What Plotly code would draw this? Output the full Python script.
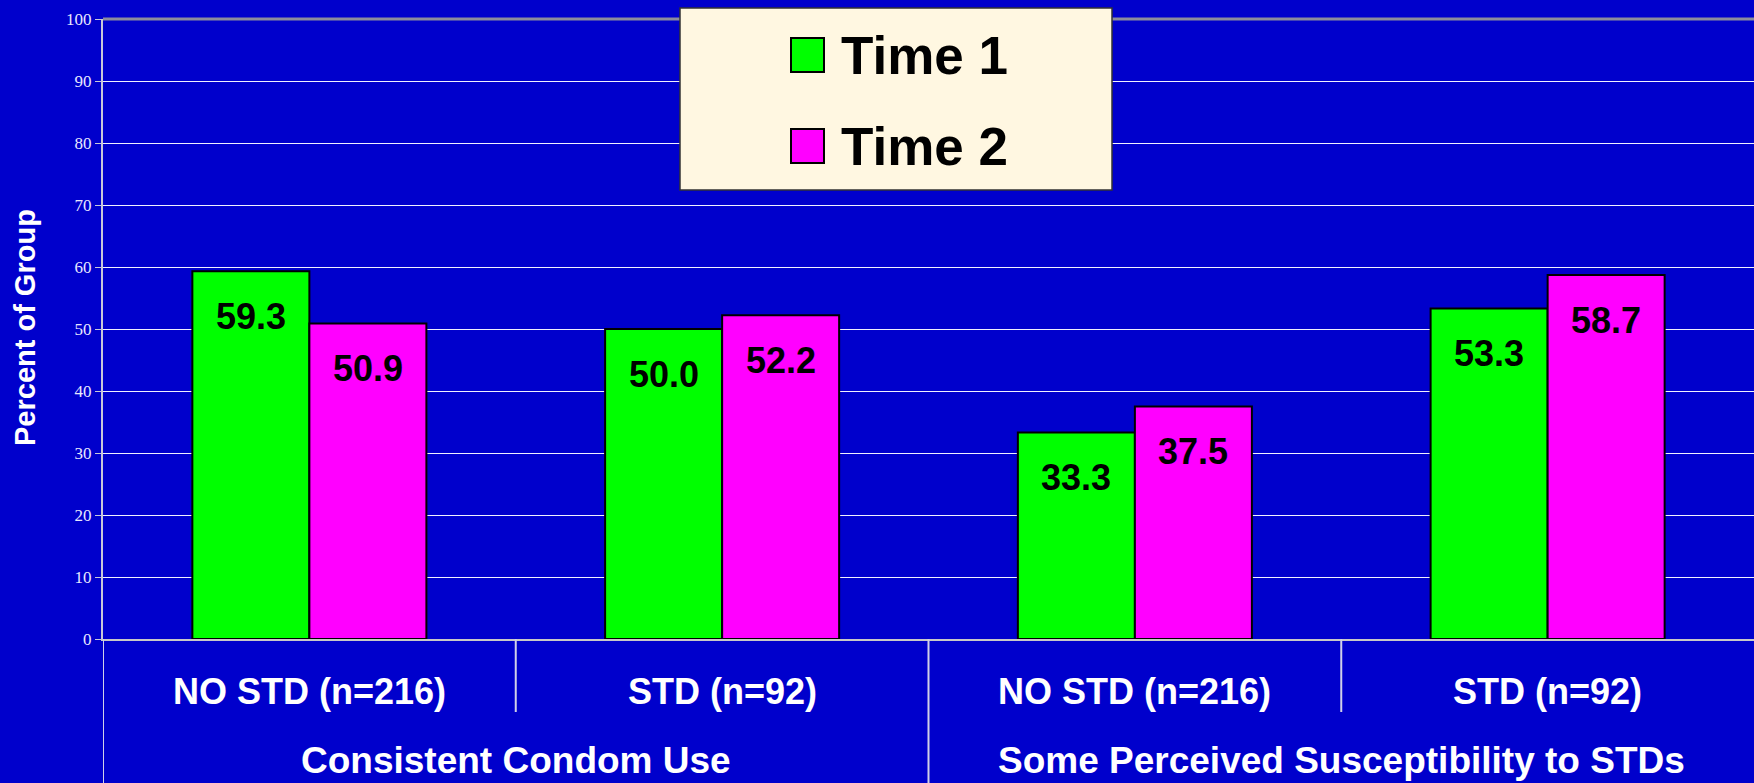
import plotly.graph_objects as go

# ---- data -------------------------------------------------------------
outcomes = ["Consistent Condom Use", "Some Perceived Susceptibility to STDs"]
groups = ["NO STD (n=216)", "STD (n=92)"]
series_names = ["Time 1", "Time 2"]
time1 = [59.3, 50.0, 33.3, 53.3]
time2 = [50.9, 52.2, 37.5, 58.7]
y_ticks = list(range(0, 101, 10))

# ---- styling ----------------------------------------------------------
W, H = 1754, 783
ML, MR, MT, MB = 103, 0, 19, 144
PW, PH = W - ML - MR, H - MT - MB
BG = "#0000CC"
COLORS = ["#00FF00", "#FF00FF"]
SANS = "Liberation Sans, Arial, sans-serif"
SERIF = "Liberation Serif, Times New Roman, serif"
BARGAP = 0.433


def px_x(px):
    return (px - ML) / PW


def px_y(py):
    return (H - MB - py) / PH


sub_labels = [g for _ in outcomes for g in groups]
xs = list(range(len(sub_labels)))

fig = go.Figure()
for name, vals, col in zip(series_names, [time1, time2], COLORS):
    fig.add_trace(go.Bar(
        x=xs, y=vals, name=name,
        marker=dict(color=col, line=dict(color="black", width=2)),
        showlegend=False,
    ))

annotations = []
shapes = []

# value labels near the top of each bar
half = (1 - BARGAP) / 4
for k, vals in enumerate([time1, time2]):
    off = -half if k == 0 else half
    for i, v in enumerate(vals):
        annotations.append(dict(
            x=i + off, y=v, xref="x", yref="y", text=f"<b>{v:.1f}</b>",
            showarrow=False, yshift=-45,
            font=dict(family=SANS, size=36, color="black"),
        ))

# inner category labels
for i, lab in enumerate(sub_labels):
    annotations.append(dict(
        x=i, y=0, xref="x", yref="paper", text=f"<b>{lab}</b>",
        showarrow=False, yshift=-52, yanchor="middle",
        font=dict(family=SANS, size=36, color="white"),
    ))

# outer category labels
n_sub = len(groups)
for j, lab in enumerate(outcomes):
    centre = j * n_sub + (n_sub - 1) / 2
    annotations.append(dict(
        x=centre, y=0, xref="x", yref="paper", text=f"<b>{lab}</b>",
        showarrow=False, yshift=-121, yanchor="middle",
        font=dict(family=SANS, size=37, color="white"),
    ))

# axis title
annotations.append(dict(
    x=px_x(25), y=px_y(328), xref="paper", yref="paper", text="<b>Percent of Group</b>",
    textangle=-90, showarrow=False, xanchor="center", yanchor="middle",
    font=dict(family=SANS, size=29, color="white"),
))

# category dividers below the axis
DIV = "#D0D0E8"
bottom = px_y(H)
short_bottom = px_y(712)
for b in range(len(sub_labels)):
    xb = b - 0.5
    y_end = bottom if b % n_sub == 0 else short_bottom
    shapes.append(dict(type="line", xref="x", yref="paper", x0=xb, x1=xb,
                       y0=0, y1=y_end, line=dict(color=DIV, width=2)))

# top border of the plotting area
shapes.append(dict(type="line", xref="paper", yref="paper", x0=0, x1=1, y0=1, y1=1,
                   line=dict(color="#8C8C9C", width=3)))

# legend box
shapes.append(dict(type="rect", xref="paper", yref="paper",
                   x0=px_x(680), x1=px_x(1112), y0=px_y(190), y1=px_y(8),
                   fillcolor="#FFF7E1", line=dict(color="#333333", width=1.5)))
legend_rows = [55, 146]
for name, col, cy in zip(series_names, COLORS, legend_rows):
    shapes.append(dict(type="rect", xref="paper", yref="paper",
                       x0=px_x(791), x1=px_x(824), y0=px_y(cy + 17), y1=px_y(cy - 17),
                       fillcolor=col, line=dict(color="black", width=2)))
    annotations.append(dict(
        x=px_x(839), y=px_y(cy), xref="paper", yref="paper", text=f"<b>{name}</b>",
        showarrow=False, xanchor="left", yanchor="middle",
        font=dict(family=SANS, size=53, color="black"),
    ))

fig.update_layout(
    width=W, height=H,
    margin=dict(l=ML, r=MR, t=MT, b=MB, pad=0),
    paper_bgcolor=BG, plot_bgcolor=BG,
    barmode="group", bargap=BARGAP, bargroupgap=0,
    showlegend=False,
    annotations=annotations, shapes=shapes,
    xaxis=dict(
        range=[-0.5, len(sub_labels) - 0.5], showticklabels=False, ticks="",
        showgrid=False, zeroline=False, showline=True,
        linecolor="#C8C8C8", linewidth=2, fixedrange=True,
    ),
    yaxis=dict(
        range=[0, 100], tickvals=y_ticks, ticks="outside", ticklen=6,
        tickcolor="#C8C8D8", tickwidth=1,
        tickfont=dict(family=SERIF, size=17, color="#E8E8FF"),
        showgrid=True, gridcolor="#F0F0FF", gridwidth=1,
        zeroline=False, showline=True, linecolor="#C8C8D8", linewidth=2,
        fixedrange=True,
    ),
)

fig.write_html("out.html")
